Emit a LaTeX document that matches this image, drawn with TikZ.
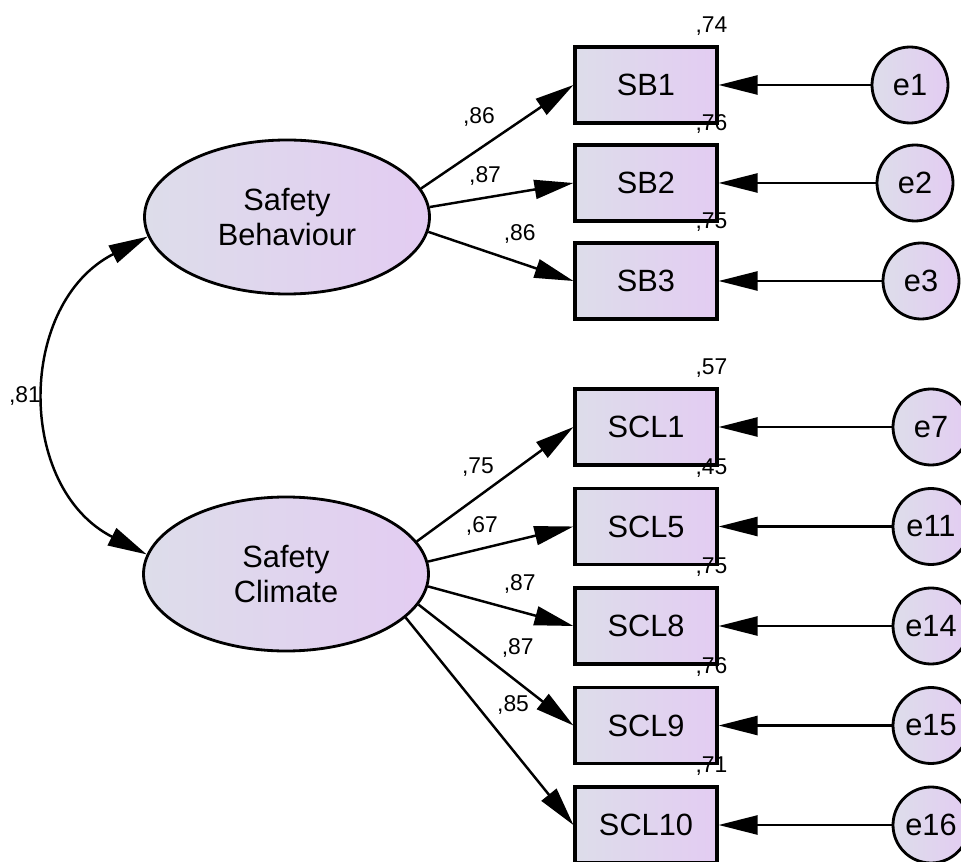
\documentclass[tikz,border=0pt]{standalone}
\usepackage{fontspec}
\setmainfont{Liberation Sans}
\usetikzlibrary{arrows.meta,shapes.geometric}

\definecolor{fillgrey}{RGB}{221,221,234}
\definecolor{filllilac}{RGB}{227,204,242}

\begin{document}
\begin{tikzpicture}[->,>={Triangle[length=0.78cm,width=0.38cm]},line width=1.4pt,node distance=1.96cm,
                    font=\fontsize{17.5}{20}\selectfont]
  \tikzstyle{latent}=[ellipse,draw,line width=1.6pt,left color=fillgrey,right color=filllilac,
                      minimum width=5.7cm,minimum height=3.08cm,align=center,inner sep=0pt]
  \tikzstyle{obs}=[rectangle,draw,line width=1.8pt,left color=fillgrey,right color=filllilac,
                   minimum width=2.84cm,minimum height=1.52cm,inner sep=0pt]
  \tikzstyle{err}=[circle,draw,line width=1.6pt,left color=fillgrey,right color=filllilac,
                   minimum size=1.52cm,inner sep=0pt]
  \tikzstyle{coef}=[font=\fontsize{13}{15}\selectfont,inner sep=0pt]

  \useasboundingbox (0,0) rectangle (19.22,-17.24);

  % latent variables
  \node[latent] (SB) at (5.74,-4.34)  {Safety\\Behaviour};
  \node[latent] (SC) at (5.72,-11.48) {Safety\\Climate};

  % indicators
  \node[obs] (SB1) at (12.92,-1.70) {SB1};
  \node[obs] (SB2) [below of=SB1]   {SB2};
  \node[obs] (SB3) [below of=SB2]   {SB3};

  \node[obs] (SCL1)  at (12.92,-8.54)                   {SCL1};
  \node[obs] (SCL5)  [below of=SCL1, node distance=1.99cm] {SCL5};
  \node[obs] (SCL8)  [below of=SCL5, node distance=1.99cm] {SCL8};
  \node[obs] (SCL9)  [below of=SCL8, node distance=1.99cm] {SCL9};
  \node[obs] (SCL10) [below of=SCL9, node distance=1.99cm] {SCL10};

  % error terms
  \node[err] (e1)  [right of=SB1, node distance=5.28cm]  {e1};
  \node[err] (e2)  [right of=SB2, node distance=5.38cm]  {e2};
  \node[err] (e3)  [right of=SB3, node distance=5.5cm]   {e3};
  \node[err] (e7)  [right of=SCL1, node distance=5.7cm]  {e7};
  \node[err] (e11) [right of=SCL5, node distance=5.7cm]  {e11};
  \node[err] (e14) [right of=SCL8, node distance=5.7cm]  {e14};
  \node[err] (e15) [right of=SCL9, node distance=5.7cm]  {e15};
  \node[err] (e16) [right of=SCL10, node distance=5.7cm] {e16};

  % squared multiple correlations
  \node[coef,anchor=base east] (r1)  at ([shift={(0.2,0.25)}]SB1.north east)   {,74};
  \node[coef,anchor=base east] (r2)  at ([shift={(0.2,0.25)}]SB2.north east)   {,76};
  \node[coef,anchor=base east] (r3)  at ([shift={(0.2,0.25)}]SB3.north east)   {,75};
  \node[coef,anchor=base east] (r7)  at ([shift={(0.2,0.25)}]SCL1.north east)  {,57};
  \node[coef,anchor=base east] (r11) at ([shift={(0.2,0.25)}]SCL5.north east)  {,45};
  \node[coef,anchor=base east] (r14) at ([shift={(0.2,0.25)}]SCL8.north east)  {,75};
  \node[coef,anchor=base east] (r15) at ([shift={(0.2,0.25)}]SCL9.north east)  {,76};
  \node[coef,anchor=base east] (r16) at ([shift={(0.2,0.25)}]SCL10.north east) {,71};

  % loadings
  \path (SB.12)  edge node[coef,pos=.38,above=.43cm,name=l1] {,86} (SB1.west)
        (SB.4)   edge node[coef,pos=.385,above=.22cm,name=l2] {,87} (SB2.west)
        (SB.-6)  edge node[coef,pos=.63,above=.36cm,name=l3] {,86} (SB3.west)
        (SC.14)  edge node[coef,pos=.39,above=.39cm,name=l7] {,75} (SCL1.west)
        (SC.5)   edge node[coef,pos=.37,above=.23cm,name=l11] {,67} (SCL5.west)
        (SC.-5)  edge node[coef,pos=.63,above=.34cm,name=l14] {,87} (SCL8.west)
        (SC.-13) edge node[coef,pos=.64,above=.46cm,name=l15] {,87} (SCL9.west)
        (SC.-20) edge node[coef,pos=.64,above=.7cm,name=l16] {,85} (SCL10.west);

  % residuals
  \path (e1) edge (SB1)
        (e2) edge (SB2)
        (e3) edge (SB3)
        (e7) edge (SCL1)
        (e11) edge (SCL5)
        (e14) edge (SCL8)
        (e15) edge (SCL9)
        (e16) edge (SCL10);

  % covariance
  \draw[<->] (SB.188) to[out=207,in=153,looseness=1.18]
        node[coef,left=.14cm,name=cov] {,81} (SC.172);
\end{tikzpicture}
\end{document}
